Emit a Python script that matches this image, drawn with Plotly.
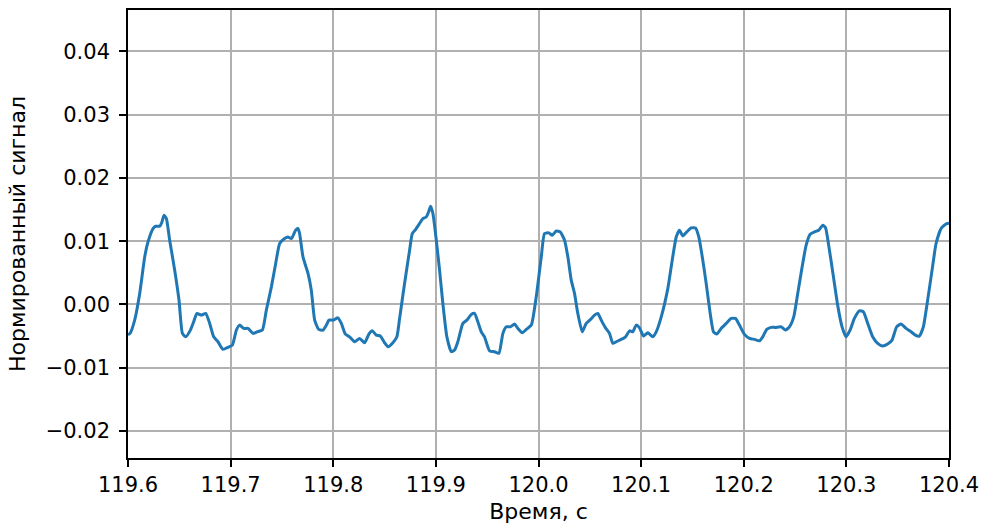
import plotly.graph_objects as go

# Time samples, s
time_s = [
    119.600, 119.602, 119.6065, 119.6114, 119.6163, 119.6195, 119.6244, 119.6270, 119.6309, 119.6331,
    119.6351, 119.6374, 119.6406, 119.6455, 119.6497, 119.6530, 119.6562, 119.6608, 119.6640, 119.6672,
    119.6715, 119.6757, 119.6796, 119.6835, 119.6877, 119.6925, 119.6974, 119.7017, 119.7056, 119.7088,
    119.7127, 119.7169, 119.7218, 119.7257, 119.7309, 119.7348, 119.7397, 119.7439, 119.7478, 119.7526,
    119.7558, 119.7592, 119.7633, 119.7656, 119.7672, 119.7705, 119.7754, 119.7786, 119.7819, 119.7858,
    119.7900, 119.7933, 119.7958, 119.8004, 119.8045, 119.8079, 119.8118, 119.8159, 119.8208, 119.8257,
    119.8306, 119.8347, 119.8380, 119.8419, 119.8458, 119.8500, 119.8533, 119.8581, 119.8620, 119.8647,
    119.8695, 119.8744, 119.8770, 119.8802, 119.8841, 119.8873, 119.8906, 119.8929, 119.8948, 119.8971,
    119.9004, 119.9036, 119.9068, 119.9107, 119.9150, 119.9182, 119.9214, 119.9263, 119.9302, 119.9345,
    119.9377, 119.9409, 119.9442, 119.9474, 119.9523, 119.9572, 119.9614, 119.9653, 119.9686, 119.9725,
    119.9767, 119.9799, 119.9842, 119.9881, 119.9930, 119.9978, 120.0027, 120.0059, 120.0101, 120.0134,
    120.0173, 120.0212, 120.0254, 120.0286, 120.0319, 120.0351, 120.0383, 120.0426, 120.0465, 120.0507,
    120.0546, 120.0578, 120.0611, 120.0653, 120.0692, 120.0724, 120.0757, 120.0806, 120.0848, 120.0887,
    120.0919, 120.0952, 120.0984, 120.1023, 120.1065, 120.1114, 120.1147, 120.1196, 120.1260, 120.1303,
    120.1342, 120.1374, 120.1406, 120.1445, 120.1488, 120.1530, 120.1562, 120.1601, 120.1634, 120.1673,
    120.1705, 120.1737, 120.1780, 120.1829, 120.1877, 120.1919, 120.1958, 120.2007, 120.2056, 120.2104,
    120.2153, 120.2185, 120.2224, 120.2267, 120.2309, 120.2365, 120.2406, 120.2445, 120.2487, 120.2526,
    120.2569, 120.2608, 120.2647, 120.2689, 120.2731, 120.2770, 120.2796, 120.2835, 120.2874, 120.2915,
    120.2958, 120.2997, 120.3036, 120.3078, 120.3127, 120.3166, 120.3208, 120.3256, 120.3305, 120.3354,
    120.3402, 120.3445, 120.3490, 120.3533, 120.3582, 120.3630, 120.3672, 120.3711, 120.3750, 120.3792,
    120.3835, 120.3874, 120.3923, 120.3977, 120.4000,
]

# Normalised signal amplitude
signal = [
    -0.0048, -0.00458, -0.00248, 0.00174, 0.00752, 0.00988, 0.01200, 0.01236, 0.01236, 0.01304,
    0.01410, 0.01358, 0.01015, 0.00542, 0.00068, -0.00458, -0.00512, -0.00406, -0.00275, -0.00142,
    -0.00169, -0.00142, -0.00300, -0.00512, -0.00590, -0.00710, -0.00679, -0.00643, -0.00406, -0.00327,
    -0.00379, -0.00379, -0.00458, -0.00433, -0.00406, -0.00090, 0.00278, 0.00647, 0.00963, 0.01042,
    0.01067, 0.01042, 0.01173, 0.01200, 0.01121, 0.00752, 0.00490, 0.00226, -0.00248, -0.00395,
    -0.00406, -0.00327, -0.00248, -0.00248, -0.00212, -0.00300, -0.00469, -0.00512, -0.00590, -0.00537,
    -0.00606, -0.00469, -0.00417, -0.00485, -0.00500, -0.00606, -0.00670, -0.00606, -0.00512, -0.00216,
    0.00332, 0.00857, 0.01121, 0.01184, 0.01279, 0.01358, 0.01383, 0.01462, 0.01552, 0.01437,
    0.01015, 0.00542, 0.00016, -0.00512, -0.00748, -0.00722, -0.00590, -0.00300, -0.00248, -0.00158,
    -0.00142, -0.00275, -0.00433, -0.00512, -0.00733, -0.00748, -0.00774, -0.00458, -0.00354, -0.00354,
    -0.00311, -0.00379, -0.00448, -0.00395, -0.00327, 0.00120, 0.00752, 0.01121, 0.01131, 0.01094,
    0.01162, 0.01146, 0.01015, 0.00752, 0.00384, 0.00174, -0.00142, -0.00433, -0.00300, -0.00237,
    -0.00169, -0.00142, -0.00248, -0.00370, -0.00458, -0.00616, -0.00590, -0.00553, -0.00512, -0.00417,
    -0.00433, -0.00327, -0.00370, -0.00500, -0.00448, -0.00512, -0.00433, -0.00196, 0.00250, 0.00700,
    0.01067, 0.01173, 0.01083, 0.01146, 0.01210, 0.01210, 0.01067, 0.00700, 0.00332, -0.00142,
    -0.00433, -0.00469, -0.00379, -0.00300, -0.00221, -0.00221, -0.00327, -0.00474, -0.00537, -0.00553,
    -0.00575, -0.00512, -0.00395, -0.00363, -0.00363, -0.00354, -0.00406, -0.00354, -0.00196, 0.00174,
    0.00594, 0.00936, 0.01110, 0.01146, 0.01173, 0.01252, 0.01216, 0.00857, 0.00436, -0.00011,
    -0.00354, -0.00512, -0.00406, -0.00221, -0.00101, -0.00117, -0.00300, -0.00512, -0.00616, -0.00658,
    -0.00627, -0.00564, -0.00354, -0.00311, -0.00379, -0.00433, -0.00485, -0.00500, -0.00354, 0.00068,
    0.00542, 0.00963, 0.01200, 0.01279, 0.01284,
]

x_ticks = [119.6, 119.7, 119.8, 119.9, 120.0, 120.1, 120.2, 120.3, 120.4]
y_ticks = [-0.02, -0.01, 0.00, 0.01, 0.02, 0.03, 0.04]

font_family = "DejaVu Sans, Liberation Sans, sans-serif"
tick_font = dict(family=font_family, size=21, color="black")
label_font = dict(family=font_family, size=22, color="black")

fig = go.Figure(
    go.Scatter(
        x=time_s,
        y=signal,
        mode="lines",
        line=dict(color="#1f77b4", width=3, shape="spline", smoothing=0.5),
        showlegend=False,
        hoverinfo="x+y",
    )
)

axis_common = dict(
    showgrid=True,
    gridcolor="#b0b0b0",
    gridwidth=1.6,
    zeroline=False,
    showline=True,
    linecolor="black",
    linewidth=1.6,
    mirror=True,
    ticks="outside",
    ticklen=7,
    tickwidth=1.6,
    tickcolor="black",
    tickfont=tick_font,
    automargin=False,
)

fig.update_layout(
    width=986,
    height=532,
    margin=dict(l=128, r=37, t=10, b=74),
    paper_bgcolor="white",
    plot_bgcolor="white",
    font=tick_font,
    xaxis=dict(
        range=[119.6, 120.4],
        tickvals=x_ticks,
        tickformat=".1f",
        ticklabelstandoff=0,
        title=dict(text="Время, с", font=label_font, standoff=8),
        **axis_common,
    ),
    yaxis=dict(
        range=[-0.02428, 0.04655],
        tickvals=y_ticks,
        tickformat=".2f",
        ticklabelstandoff=5,
        title=dict(text="Нормированный сигнал", font=label_font, standoff=14),
        **axis_common,
    ),
)

fig.write_html("out.html")
